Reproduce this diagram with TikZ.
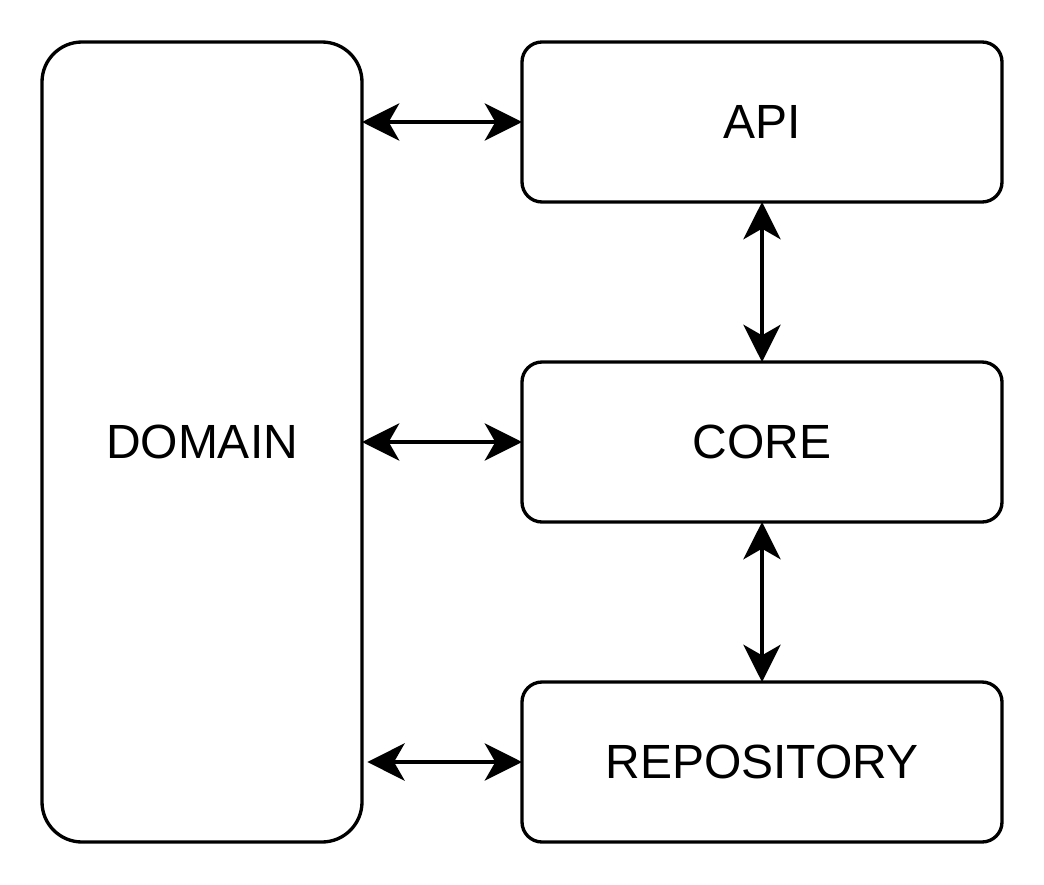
\documentclass[tikz,border=0pt]{standalone}
\usepackage{fontspec}
\setmainfont{Liberation Sans}
\usepackage{tikz}
\usetikzlibrary{positioning}
\usetikzlibrary{arrows.meta}

\begin{document}
\begin{tikzpicture}
[
x=0.75pt, y=-0.75pt,
layer-a/.style={rectangle,draw,line width=2.5pt,outer sep=0pt,rounded corners=15pt,
                minimum width=360pt,minimum height=120pt,
                font=\fontsize{36}{43}\selectfont},
layer-d/.style={layer-a,rounded corners=30pt,minimum width=240pt,minimum height=600pt},
link-a/.style={line width=2.5pt,{Stealth[length=28pt,width=28pt,inset=8pt]}-{Stealth[length=28pt,width=28pt,inset=8pt]}},
]
\useasboundingbox (0,0) rectangle (1044,884);
\node (nd) [layer-d] at (202,442)              {DOMAIN};
\node (na) [layer-a] at (762,122)              {API};
\node (nc) [layer-a, below = 120pt of na]     {CORE};
\node (nr) [layer-a, below = 120pt of nc]     {REPOSITORY};
\draw [link-a] (nd.east |- na.west) -- (na.west);
\draw [link-a] (nd.east |- nc.west) -- (nc.west);
\draw [link-a] ([xshift=4pt]nd.east |- nr.west) -- (nr.west);
\draw [link-a] (na.south) -- (nc.north);
\draw [link-a] (nc.south) -- (nr.north);
\end{tikzpicture}
\end{document}
